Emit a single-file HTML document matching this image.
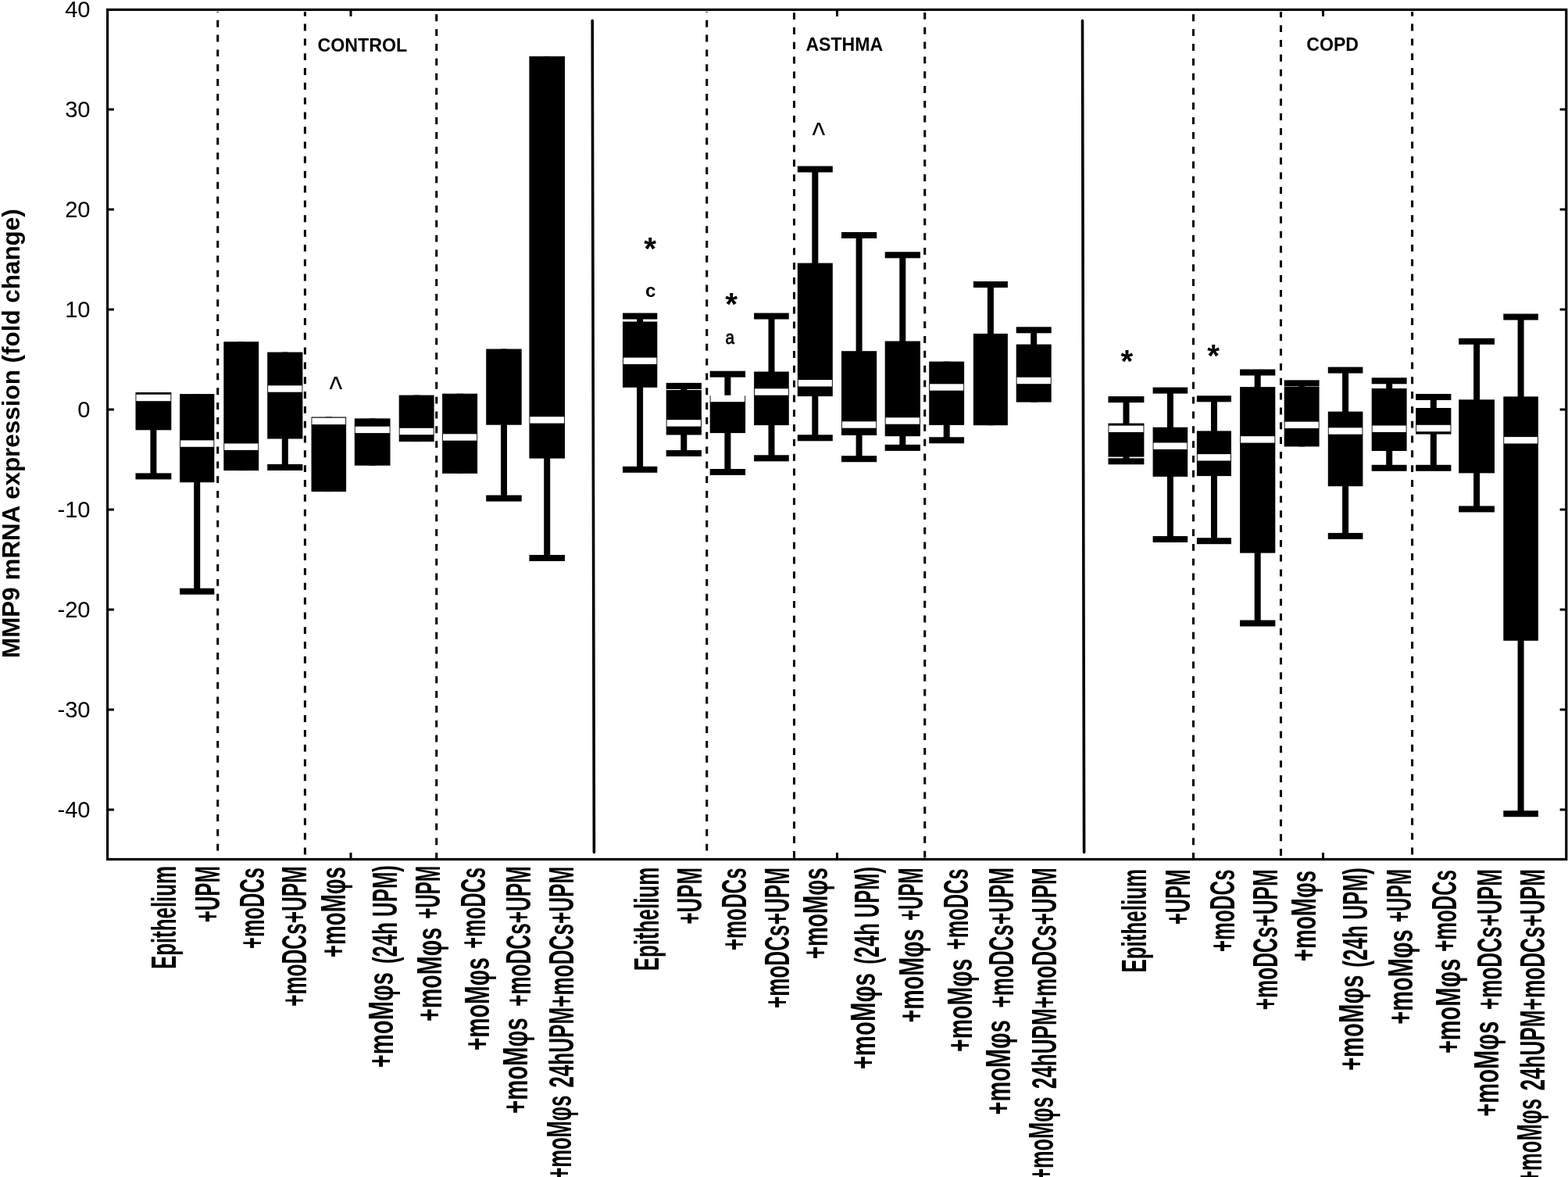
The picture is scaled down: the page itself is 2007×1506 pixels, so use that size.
<!DOCTYPE html><html><head><meta charset="utf-8"><title>MMP9 mRNA expression</title>
<style>html,body{margin:0;padding:0;background:#fff;}svg{display:block;}text{font-family:"Liberation Sans",Arial,sans-serif;fill:#000;}</style></head><body>
<svg width="2007" height="1506" viewBox="0 0 2007 1506">
<rect x="0" y="0" width="2007" height="1506" fill="#fff"/>
<line x1="758.2" y1="26.5" x2="760.4" y2="1090.5" stroke="#000" stroke-width="3.6" stroke-linecap="round"/>
<line x1="1385.5" y1="26.5" x2="1387.6" y2="1090.5" stroke="#000" stroke-width="3.6" stroke-linecap="round"/>
<line x1="278.7" y1="1088.6" x2="278.7" y2="15.0" stroke="#000" stroke-width="3.05" stroke-dasharray="8.9 9.92"/>
<line x1="390.4" y1="1093.4" x2="390.4" y2="15.0" stroke="#000" stroke-width="3.05" stroke-dasharray="8.9 9.92"/>
<line x1="558.7" y1="1100.0" x2="558.7" y2="15.0" stroke="#000" stroke-width="3.05" stroke-dasharray="8.9 9.92"/>
<line x1="904.7" y1="1088.6" x2="904.7" y2="15.0" stroke="#000" stroke-width="3.05" stroke-dasharray="8.9 9.92"/>
<line x1="1016.5" y1="1097.8" x2="1016.5" y2="15.0" stroke="#000" stroke-width="3.05" stroke-dasharray="8.9 9.92"/>
<line x1="1183.7" y1="1097.6" x2="1183.7" y2="15.0" stroke="#000" stroke-width="3.05" stroke-dasharray="8.9 9.92"/>
<line x1="1527.5" y1="1100.0" x2="1527.5" y2="15.0" stroke="#000" stroke-width="3.05" stroke-dasharray="8.9 9.92"/>
<line x1="1639.5" y1="1095.0" x2="1639.5" y2="15.0" stroke="#000" stroke-width="3.05" stroke-dasharray="8.9 9.92"/>
<line x1="1807.6" y1="1093.4" x2="1807.6" y2="15.0" stroke="#000" stroke-width="3.05" stroke-dasharray="8.9 9.92"/>
<rect x="192.4" y="502.0" width="8.0" height="107.4" fill="#000"/>
<rect x="173.5" y="605.4" width="45.8" height="8.0" fill="#000"/>
<rect x="173.5" y="502.0" width="45.8" height="48.3" fill="#000"/>
<rect x="174.4" y="504.8" width="44.0" height="8.4" fill="#fff"/>
<rect x="248.2" y="504.1" width="8.0" height="252.6" fill="#000"/>
<rect x="230.1" y="752.7" width="44.2" height="8.0" fill="#000"/>
<rect x="230.1" y="504.1" width="44.2" height="113.1" fill="#000"/>
<rect x="231.0" y="563.4" width="42.4" height="8.4" fill="#fff"/>
<rect x="304.8" y="437.2" width="8.0" height="164.9" fill="#000"/>
<rect x="286.3" y="437.2" width="44.9" height="164.9" fill="#000"/>
<rect x="287.2" y="567.5" width="43.1" height="8.4" fill="#fff"/>
<rect x="360.8" y="450.6" width="8.0" height="147.4" fill="#000"/>
<rect x="342.2" y="594.0" width="45.2" height="8.0" fill="#000"/>
<rect x="342.2" y="450.6" width="45.2" height="110.9" fill="#000"/>
<rect x="343.1" y="493.3" width="43.4" height="8.4" fill="#fff"/>
<rect x="416.8" y="533.5" width="8.0" height="95.6" fill="#000"/>
<rect x="398.5" y="533.5" width="44.6" height="95.6" fill="#000"/>
<rect x="399.4" y="534.7" width="42.8" height="8.4" fill="#fff"/>
<rect x="472.6" y="535.4" width="8.0" height="60.3" fill="#000"/>
<rect x="453.8" y="535.4" width="45.7" height="60.3" fill="#000"/>
<rect x="454.7" y="545.7" width="43.9" height="8.4" fill="#fff"/>
<rect x="529.1" y="505.6" width="8.0" height="59.5" fill="#000"/>
<rect x="510.7" y="505.6" width="44.9" height="59.5" fill="#000"/>
<rect x="511.6" y="547.8" width="43.1" height="8.4" fill="#fff"/>
<rect x="584.6" y="503.7" width="8.0" height="102.2" fill="#000"/>
<rect x="566.1" y="503.7" width="45.0" height="102.2" fill="#000"/>
<rect x="567.0" y="555.3" width="43.2" height="8.4" fill="#fff"/>
<rect x="641.0" y="446.5" width="8.0" height="191.1" fill="#000"/>
<rect x="622.2" y="633.6" width="45.5" height="8.0" fill="#000"/>
<rect x="622.2" y="446.5" width="45.5" height="97.2" fill="#000"/>
<rect x="696.2" y="72.1" width="8.0" height="641.9" fill="#000"/>
<rect x="677.4" y="710.0" width="45.6" height="8.0" fill="#000"/>
<rect x="677.4" y="72.1" width="45.6" height="514.5" fill="#000"/>
<rect x="678.3" y="533.2" width="43.8" height="8.4" fill="#fff"/>
<rect x="815.1" y="404.5" width="8.0" height="196.3" fill="#000"/>
<rect x="797.0" y="400.5" width="44.3" height="8.0" fill="#000"/>
<rect x="797.0" y="596.8" width="44.3" height="8.0" fill="#000"/>
<rect x="797.0" y="411.5" width="44.3" height="84.3" fill="#000"/>
<rect x="797.9" y="457.6" width="42.5" height="8.4" fill="#fff"/>
<rect x="871.3" y="493.9" width="8.0" height="86.1" fill="#000"/>
<rect x="852.7" y="489.9" width="45.2" height="8.0" fill="#000"/>
<rect x="852.7" y="576.0" width="45.2" height="8.0" fill="#000"/>
<rect x="852.7" y="499.0" width="45.2" height="57.5" fill="#000"/>
<rect x="853.6" y="537.2" width="43.4" height="8.4" fill="#fff"/>
<rect x="927.4" y="478.7" width="8.0" height="125.3" fill="#000"/>
<rect x="908.7" y="474.7" width="45.4" height="8.0" fill="#000"/>
<rect x="908.7" y="600.0" width="45.4" height="8.0" fill="#000"/>
<rect x="908.7" y="506.3" width="45.4" height="47.8" fill="#000"/>
<rect x="909.6" y="505.8" width="43.6" height="8.4" fill="#fff"/>
<rect x="983.5" y="404.5" width="8.0" height="181.8" fill="#000"/>
<rect x="965.1" y="400.5" width="44.7" height="8.0" fill="#000"/>
<rect x="965.1" y="582.3" width="44.7" height="8.0" fill="#000"/>
<rect x="965.1" y="475.5" width="44.7" height="68.6" fill="#000"/>
<rect x="966.0" y="497.3" width="42.9" height="8.4" fill="#fff"/>
<rect x="1039.3" y="216.5" width="8.0" height="343.8" fill="#000"/>
<rect x="1020.8" y="212.5" width="45.0" height="8.0" fill="#000"/>
<rect x="1020.8" y="556.3" width="45.0" height="8.0" fill="#000"/>
<rect x="1020.8" y="336.6" width="45.0" height="170.5" fill="#000"/>
<rect x="1021.7" y="486.1" width="43.2" height="8.4" fill="#fff"/>
<rect x="1095.6" y="301.0" width="8.0" height="286.2" fill="#000"/>
<rect x="1077.0" y="297.0" width="45.2" height="8.0" fill="#000"/>
<rect x="1077.0" y="583.2" width="45.2" height="8.0" fill="#000"/>
<rect x="1077.0" y="449.2" width="45.2" height="107.8" fill="#000"/>
<rect x="1077.9" y="539.3" width="43.4" height="8.4" fill="#fff"/>
<rect x="1151.3" y="326.3" width="8.0" height="246.6" fill="#000"/>
<rect x="1132.7" y="322.3" width="45.3" height="8.0" fill="#000"/>
<rect x="1132.7" y="568.9" width="45.3" height="8.0" fill="#000"/>
<rect x="1132.7" y="436.5" width="45.3" height="121.7" fill="#000"/>
<rect x="1133.6" y="534.3" width="43.5" height="8.4" fill="#fff"/>
<rect x="1207.7" y="462.6" width="8.0" height="100.7" fill="#000"/>
<rect x="1189.2" y="559.3" width="44.9" height="8.0" fill="#000"/>
<rect x="1189.2" y="462.6" width="44.9" height="81.3" fill="#000"/>
<rect x="1190.1" y="491.3" width="43.1" height="8.4" fill="#fff"/>
<rect x="1263.9" y="364.0" width="8.0" height="180.2" fill="#000"/>
<rect x="1245.9" y="360.0" width="44.0" height="8.0" fill="#000"/>
<rect x="1245.9" y="426.9" width="44.0" height="117.3" fill="#000"/>
<rect x="1319.2" y="422.3" width="8.0" height="92.3" fill="#000"/>
<rect x="1300.7" y="418.3" width="45.0" height="8.0" fill="#000"/>
<rect x="1300.7" y="440.6" width="45.0" height="74.0" fill="#000"/>
<rect x="1301.6" y="482.8" width="43.2" height="8.4" fill="#fff"/>
<rect x="1437.5" y="511.1" width="8.0" height="79.2" fill="#000"/>
<rect x="1418.5" y="507.1" width="45.9" height="8.0" fill="#000"/>
<rect x="1418.5" y="586.3" width="45.9" height="8.0" fill="#000"/>
<rect x="1418.5" y="541.6" width="45.9" height="43.0" fill="#000"/>
<rect x="1419.4" y="544.6" width="44.1" height="8.4" fill="#fff"/>
<rect x="1493.9" y="499.6" width="8.0" height="190.4" fill="#000"/>
<rect x="1475.6" y="495.6" width="44.6" height="8.0" fill="#000"/>
<rect x="1475.6" y="686.0" width="44.6" height="8.0" fill="#000"/>
<rect x="1475.6" y="546.7" width="44.6" height="63.2" fill="#000"/>
<rect x="1476.5" y="566.5" width="42.8" height="8.4" fill="#fff"/>
<rect x="1550.0" y="510.3" width="8.0" height="181.9" fill="#000"/>
<rect x="1531.9" y="506.3" width="44.1" height="8.0" fill="#000"/>
<rect x="1531.9" y="688.2" width="44.1" height="8.0" fill="#000"/>
<rect x="1531.9" y="551.4" width="44.1" height="57.7" fill="#000"/>
<rect x="1532.8" y="581.1" width="42.3" height="8.4" fill="#fff"/>
<rect x="1605.7" y="476.5" width="8.0" height="321.0" fill="#000"/>
<rect x="1587.1" y="472.5" width="45.2" height="8.0" fill="#000"/>
<rect x="1587.1" y="793.5" width="45.2" height="8.0" fill="#000"/>
<rect x="1587.1" y="495.1" width="45.2" height="212.5" fill="#000"/>
<rect x="1588.0" y="558.2" width="43.4" height="8.4" fill="#fff"/>
<rect x="1662.2" y="490.4" width="8.0" height="81.0" fill="#000"/>
<rect x="1643.7" y="486.4" width="44.9" height="8.0" fill="#000"/>
<rect x="1643.7" y="494.9" width="44.9" height="76.5" fill="#000"/>
<rect x="1644.6" y="539.6" width="43.1" height="8.4" fill="#fff"/>
<rect x="1718.1" y="473.6" width="8.0" height="212.3" fill="#000"/>
<rect x="1699.8" y="469.6" width="44.6" height="8.0" fill="#000"/>
<rect x="1699.8" y="681.9" width="44.6" height="8.0" fill="#000"/>
<rect x="1699.8" y="526.6" width="44.6" height="95.6" fill="#000"/>
<rect x="1700.7" y="547.3" width="42.8" height="8.4" fill="#fff"/>
<rect x="1774.2" y="487.3" width="8.0" height="111.5" fill="#000"/>
<rect x="1755.7" y="483.3" width="44.9" height="8.0" fill="#000"/>
<rect x="1755.7" y="594.8" width="44.9" height="8.0" fill="#000"/>
<rect x="1755.7" y="497.0" width="44.9" height="80.0" fill="#000"/>
<rect x="1756.6" y="544.5" width="43.1" height="8.4" fill="#fff"/>
<rect x="1830.8" y="508.0" width="8.0" height="90.8" fill="#000"/>
<rect x="1812.2" y="504.0" width="45.2" height="8.0" fill="#000"/>
<rect x="1812.2" y="594.8" width="45.2" height="8.0" fill="#000"/>
<rect x="1812.2" y="522.0" width="45.2" height="33.6" fill="#000"/>
<rect x="1813.1" y="543.8" width="43.4" height="8.4" fill="#fff"/>
<rect x="1886.1" y="436.8" width="8.0" height="214.6" fill="#000"/>
<rect x="1867.2" y="432.8" width="45.8" height="8.0" fill="#000"/>
<rect x="1867.2" y="647.4" width="45.8" height="8.0" fill="#000"/>
<rect x="1867.2" y="511.3" width="45.8" height="94.1" fill="#000"/>
<rect x="1942.6" y="405.5" width="8.0" height="635.7" fill="#000"/>
<rect x="1924.3" y="401.5" width="44.6" height="8.0" fill="#000"/>
<rect x="1924.3" y="1037.2" width="44.6" height="8.0" fill="#000"/>
<rect x="1924.3" y="507.4" width="44.6" height="312.4" fill="#000"/>
<rect x="1925.2" y="559.1" width="42.8" height="8.4" fill="#fff"/>
<rect x="137.6" y="12.4" width="1867.2" height="1087.1" fill="none" stroke="#000" stroke-width="3.2"/>
<text x="115.6" y="21.8" font-size="29.2" text-anchor="end">40</text>
<line x1="137.6" y1="140.0" x2="146" y2="140.0" stroke="#000" stroke-width="3"/>
<line x1="1996.6" y1="140.0" x2="2004.8" y2="140.0" stroke="#000" stroke-width="3"/>
<text x="115.6" y="149.8" font-size="29.2" text-anchor="end">30</text>
<line x1="137.6" y1="268.0" x2="146" y2="268.0" stroke="#000" stroke-width="3"/>
<line x1="1996.6" y1="268.0" x2="2004.8" y2="268.0" stroke="#000" stroke-width="3"/>
<text x="115.6" y="277.8" font-size="29.2" text-anchor="end">20</text>
<line x1="137.6" y1="396.0" x2="146" y2="396.0" stroke="#000" stroke-width="3"/>
<line x1="1996.6" y1="396.0" x2="2004.8" y2="396.0" stroke="#000" stroke-width="3"/>
<text x="115.6" y="405.8" font-size="29.2" text-anchor="end">10</text>
<line x1="137.6" y1="524.0" x2="146" y2="524.0" stroke="#000" stroke-width="3"/>
<line x1="1996.6" y1="524.0" x2="2004.8" y2="524.0" stroke="#000" stroke-width="3"/>
<text x="115.6" y="533.8" font-size="29.2" text-anchor="end">0</text>
<line x1="137.6" y1="652.0" x2="146" y2="652.0" stroke="#000" stroke-width="3"/>
<line x1="1996.6" y1="652.0" x2="2004.8" y2="652.0" stroke="#000" stroke-width="3"/>
<text x="115.6" y="661.8" font-size="29.2" text-anchor="end">-10</text>
<line x1="137.6" y1="780.0" x2="146" y2="780.0" stroke="#000" stroke-width="3"/>
<line x1="1996.6" y1="780.0" x2="2004.8" y2="780.0" stroke="#000" stroke-width="3"/>
<text x="115.6" y="789.8" font-size="29.2" text-anchor="end">-20</text>
<line x1="137.6" y1="908.0" x2="146" y2="908.0" stroke="#000" stroke-width="3"/>
<line x1="1996.6" y1="908.0" x2="2004.8" y2="908.0" stroke="#000" stroke-width="3"/>
<text x="115.6" y="917.8" font-size="29.2" text-anchor="end">-30</text>
<line x1="137.6" y1="1036.0" x2="146" y2="1036.0" stroke="#000" stroke-width="3"/>
<line x1="1996.6" y1="1036.0" x2="2004.8" y2="1036.0" stroke="#000" stroke-width="3"/>
<text x="115.6" y="1045.8" font-size="29.2" text-anchor="end">-40</text>
<line x1="449.0" y1="12.4" x2="449.0" y2="21" stroke="#000" stroke-width="3"/>
<line x1="449.0" y1="1099.5" x2="449.0" y2="1091" stroke="#000" stroke-width="3"/>
<line x1="1071.5" y1="12.4" x2="1071.5" y2="21" stroke="#000" stroke-width="3"/>
<line x1="1071.5" y1="1099.5" x2="1071.5" y2="1091" stroke="#000" stroke-width="3"/>
<line x1="1693.5" y1="12.4" x2="1693.5" y2="21" stroke="#000" stroke-width="3"/>
<line x1="1693.5" y1="1099.5" x2="1693.5" y2="1091" stroke="#000" stroke-width="3"/>
<text transform="translate(25.3,842) rotate(-90)" font-size="31.42" font-weight="bold">MMP9 mRNA expression (fold change)</text>
<text x="406.5" y="66.3" font-size="23.2" font-weight="bold">CONTROL</text>
<text x="1031.4" y="65.2" font-size="23.1" font-weight="bold">ASTHMA</text>
<text x="1672.3" y="65.2" font-size="23.1" font-weight="bold">COPD</text>
<text x="824.3" y="331.5" font-size="40.5" font-weight="bold">*</text>
<text x="928.2" y="403.0" font-size="40.5" font-weight="bold">*</text>
<text x="1434.4" y="475.8" font-size="40.5" font-weight="bold">*</text>
<text x="1545.2" y="468.6" font-size="40.5" font-weight="bold">*</text>
<text x="826.0" y="379.8" font-size="24" font-weight="bold">c</text>
<text transform="translate(928.6,440.3) scale(0.88,1)" font-size="23.4" stroke="#000" stroke-width="0.8">a</text>
<text transform="translate(421.4,512.8) scale(0.81,1)" font-size="44">^</text>
<text transform="translate(1039.5,188.4) scale(0.81,1)" font-size="44">^</text>
<g font-size="44" font-weight="bold">
<text transform="translate(224.7,1240.12) rotate(-90) scale(0.5878,1)">Epithelium</text>
<text transform="translate(280.6,1180.20) rotate(-90) scale(0.5834,1)">+UPM</text>
<text transform="translate(337.8,1213.90) rotate(-90) scale(0.5783,1)">+moDCs</text>
<text transform="translate(392.2,1287.81) rotate(-90) scale(0.5926,1)">+moDCs+UPM</text>
<text transform="translate(441.5,1225.17) rotate(-90) scale(0.6310,1)">+moMφs</text>
<text transform="translate(507.8,1233.01) rotate(-90) scale(0.5854,1)">(24h UPM)</text>
<text transform="translate(502.5,1366.21) rotate(-90) scale(0.6641,1)">+moMφs</text>
<text transform="translate(563.2,1175.76) rotate(-90) scale(0.5500,1)">+UPM</text>
<text transform="translate(564.9,1306.90) rotate(-90) scale(0.6514,1)">+moMφs</text>
<text transform="translate(620.5,1213.80) rotate(-90) scale(0.5788,1)">+moDCs</text>
<text transform="translate(625.5,1344.29) rotate(-90) scale(0.6470,1)">+moMφs</text>
<text transform="translate(678.6,1287.81) rotate(-90) scale(0.5926,1)">+moDCs+UPM</text>
<text transform="translate(675.2,1424.92) rotate(-90) scale(0.6658,1)">+moMφs</text>
<text transform="translate(733.8,1391.82) rotate(-90) scale(0.5939,1)">24hUPM+moDCs+UPM</text>
<text transform="translate(731.0,1508.80) rotate(-90) scale(0.5819,1)">+moMφs</text>
<text transform="translate(842.6,1242.32) rotate(-90) scale(0.5896,1)">Epithelium</text>
<text transform="translate(897.9,1182.51) rotate(-90) scale(0.5876,1)">+UPM</text>
<text transform="translate(955.3,1216.11) rotate(-90) scale(0.5890,1)">+moDCs</text>
<text transform="translate(1010.0,1290.12) rotate(-90) scale(0.5943,1)">+moDCs+UPM</text>
<text transform="translate(1058.8,1227.37) rotate(-90) scale(0.6360,1)">+moMφs</text>
<text transform="translate(1125.4,1233.69) rotate(-90) scale(0.5793,1)">(24h UPM)</text>
<text transform="translate(1120.2,1368.32) rotate(-90) scale(0.6686,1)">+moMφs</text>
<text transform="translate(1181.2,1177.95) rotate(-90) scale(0.5475,1)">+UPM</text>
<text transform="translate(1182.0,1308.50) rotate(-90) scale(0.6514,1)">+moMφs</text>
<text transform="translate(1239.0,1215.19) rotate(-90) scale(0.5777,1)">+moDCs</text>
<text transform="translate(1244.0,1345.89) rotate(-90) scale(0.6476,1)">+moMφs</text>
<text transform="translate(1296.5,1289.51) rotate(-90) scale(0.5923,1)">+moDCs+UPM</text>
<text transform="translate(1292.8,1426.51) rotate(-90) scale(0.6586,1)">+moMφs</text>
<text transform="translate(1351.5,1393.32) rotate(-90) scale(0.5943,1)">24hUPM+moDCs+UPM</text>
<text transform="translate(1348.3,1509.79) rotate(-90) scale(0.5769,1)">+moMφs</text>
<text transform="translate(1467.4,1244.52) rotate(-90) scale(0.5896,1)">Epithelium</text>
<text transform="translate(1522.7,1182.99) rotate(-90) scale(0.5734,1)">+UPM</text>
<text transform="translate(1580.3,1218.01) rotate(-90) scale(0.5873,1)">+moDCs</text>
<text transform="translate(1635.1,1292.22) rotate(-90) scale(0.5939,1)">+moDCs+UPM</text>
<text transform="translate(1684.4,1230.27) rotate(-90) scale(0.6327,1)">+moMφs</text>
<text transform="translate(1750.1,1237.72) rotate(-90) scale(0.5930,1)">(24h UPM)</text>
<text transform="translate(1744.6,1370.12) rotate(-90) scale(0.6664,1)">+moMφs</text>
<text transform="translate(1805.6,1180.36) rotate(-90) scale(0.5533,1)">+UPM</text>
<text transform="translate(1808.1,1310.81) rotate(-90) scale(0.6597,1)">+moMφs</text>
<text transform="translate(1863.7,1217.80) rotate(-90) scale(0.5828,1)">+moDCs</text>
<text transform="translate(1868.7,1348.11) rotate(-90) scale(0.6592,1)">+moMφs</text>
<text transform="translate(1921.5,1292.12) rotate(-90) scale(0.5943,1)">+moDCs+UPM</text>
<text transform="translate(1917.8,1428.71) rotate(-90) scale(0.6625,1)">+moMφs</text>
<text transform="translate(1976.5,1395.62) rotate(-90) scale(0.5950,1)">24hUPM+moDCs+UPM</text>
<text transform="translate(1973.3,1512.80) rotate(-90) scale(0.5808,1)">+moMφs</text>
</g>
</svg></body></html>
